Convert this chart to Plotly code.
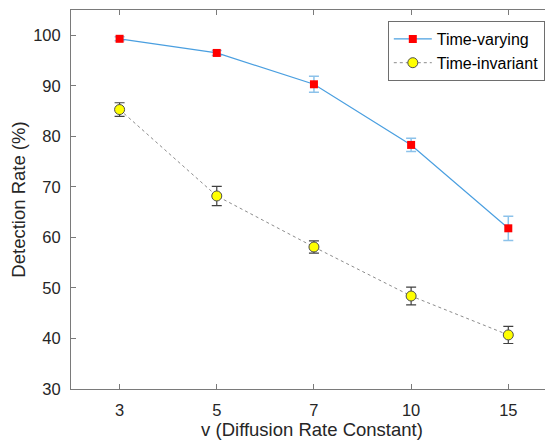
import plotly.graph_objects as go

categories = ["3", "5", "7", "10", "15"]
varying = [99.3, 96.5, 90.3, 78.3, 61.8]
varying_err = [0.4, 0.5, 1.6, 1.3, 2.4]
invariant = [85.3, 68.2, 58.1, 48.4, 40.7]
invariant_err = [1.35, 1.9, 1.2, 1.75, 1.7]

xpos = list(range(1, len(categories) + 1))
font_fam = "Liberation Sans, Arial, sans-serif"
txt = "#262626"
axc = "#7a7a7a"

fig = go.Figure()
fig.add_trace(go.Scatter(
    x=xpos, y=varying, name="Time-varying", mode="lines+markers",
    line=dict(color="#4a9fe0", width=1.2),
    marker=dict(symbol="square", color="#ff0000", size=8, line=dict(width=0)),
    error_y=dict(type="data", array=varying_err, color="#8cc2ea", thickness=1.5, width=5),
))
fig.add_trace(go.Scatter(
    x=xpos, y=invariant, name="Time-invariant", mode="lines+markers",
    line=dict(color="#8c8c8c", width=1, dash="dot"),
    marker=dict(symbol="circle", color="#ffff00", size=10, line=dict(color="#4d4d4d", width=1)),
    error_y=dict(type="data", array=invariant_err, color="#404040", thickness=1.2, width=5),
))

fig.update_layout(
    width=545, height=437,
    margin=dict(l=63, r=0, t=2, b=56, autoexpand=False),
    paper_bgcolor="white", plot_bgcolor="white",
    font=dict(family=font_fam, color=txt, size=16),
    showlegend=True,
    legend=dict(
        x=0.983, y=0.971, xanchor="right", yanchor="top",
        bordercolor="#6e6e6e", borderwidth=1, bgcolor="white",
        font=dict(size=16, color="#000000"), tracegroupgap=0, itemwidth=38,
    ),
    xaxis=dict(
        range=[0.5, 5.46], tickvals=xpos, ticktext=categories,
        showline=True, linecolor=axc, linewidth=1, mirror="ticks",
        ticks="inside", ticklen=5, tickcolor=axc, showgrid=False, zeroline=False,
        tickfont=dict(size=16.5, color=txt), ticklabelstandoff=6,
        title=dict(text="v (Diffusion Rate Constant)", font=dict(size=18.5, color=txt), standoff=2),
    ),
    yaxis=dict(
        range=[30, 105], tickvals=[30, 40, 50, 60, 70, 80, 90, 100],
        showline=True, linecolor=axc, linewidth=1, mirror="ticks",
        ticks="inside", ticklen=5, tickcolor=axc, showgrid=False, zeroline=False,
        tickfont=dict(size=16.5, color=txt), ticklabelstandoff=6,
        title=dict(text="Detection Rate (%)", font=dict(size=18.5, color=txt), standoff=8),
    ),
)

fig.write_html("out.html")
